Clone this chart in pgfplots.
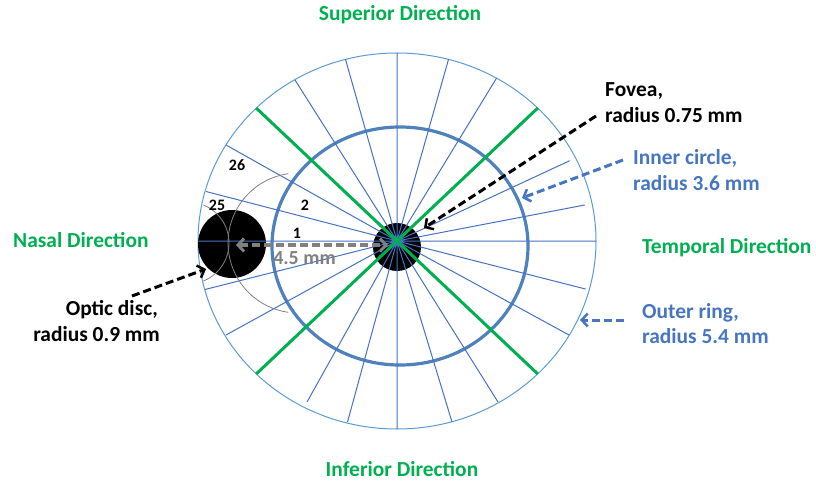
\documentclass[border=0pt]{standalone}
\usepackage{pgfplots}
\pgfplotsset{compat=1.18}
\usetikzlibrary{arrows.meta}
\usepackage{fontspec}
\setmainfont{Carlito}

\definecolor{rline}{RGB}{68,114,196}
\definecolor{outerc}{RGB}{91,155,213}
\definecolor{innerc}{RGB}{79,129,189}
\definecolor{dirgreen}{RGB}{0,176,80}
\definecolor{lblblue}{RGB}{70,118,192}
\definecolor{midgray}{RGB}{128,128,128}

\begin{document}
\begin{tikzpicture}
% everything in pixel units of the 816x483 picture, y pointing down
\begin{axis}[
width=816bp, height=483bp,
scale only axis,
xmin=0, xmax=816,
ymin=0, ymax=483,
y dir=reverse,
hide axis,
clip=false,
unbounded coords=jump
]
% outer ring and inner circle
\draw[outerc, line width=1bp] (axis cs:397,241) ellipse [x radius=199, y radius=188];
\draw[innerc, line width=3.2bp] (axis cs:400,246) ellipse [x radius=128, y radius=119];
% fovea and optic disc
\fill[black] (axis cs:397,247) ellipse [x radius=24, y radius=24];
\fill[black] (axis cs:232,244) ellipse [x radius=34, y radius=34];

% radial sector lines (end points on the outer ring)
\addplot[rline, line width=1bp] coordinates {
(397,241) (596,241) (nan,nan)
(397,241) (584.7,205) (nan,nan)
(397,241) (569.7,160.7) (nan,nan)
(397,241) (496.5,78.2) (nan,nan)
(397,241) (448.5,59.4) (nan,nan)
(397,241) (397,53) (nan,nan)
(397,241) (345.5,59.4) (nan,nan)
(397,241) (295,80) (nan,nan)
(397,241) (226,145) (nan,nan)
(397,241) (206,191.5) (nan,nan)
(397,241) (198,241) (nan,nan)
(397,241) (205,289.5) (nan,nan)
(397,241) (226,335) (nan,nan)
(397,241) (307,402) (nan,nan)
(397,241) (347.5,422) (nan,nan)
(397,241) (397,429) (nan,nan)
(397,241) (452,422) (nan,nan)
(397,241) (498,402) (nan,nan)
(397,241) (569,335) (nan,nan)
(397,241) (585.5,289) (nan,nan)
};
% diagonal quadrant lines
\addplot[dirgreen, line width=3bp] coordinates {
(397,241) (537.7,108.1) (nan,nan)
(397,241) (256.3,108.1) (nan,nan)
(397,241) (256.3,373.9) (nan,nan)
(397,241) (537.7,373.9) (nan,nan)
};

% thin grey arcs around the optic disc
\draw[midgray, line width=0.8bp] (axis cs:288.3,173.7) arc[start angle=98, end angle=262, radius=70bp];
\draw[midgray, line width=0.8bp] (axis cs:203.4,281) arc[start angle=-68, end angle=68, radius=41bp];

% 4.5 mm distance
\addplot[midgray, line width=4.5bp, dash pattern=on 8bp off 4bp,
  {Straight Barb[length=6bp,width=13bp,line width=3bp]}-{Straight Barb[length=6bp,width=13bp,line width=3bp]}]
  coordinates {(236,245) (388,245)};
\node[text=midgray, font=\fontsize{20}{22}\selectfont\bfseries] at (axis cs:304.5,258.5) {4.5 mm};

% sector numbers
\node[font=\fontsize{16}{18}\selectfont\bfseries] at (axis cs:297,233) {1};
\node[font=\fontsize{16}{18}\selectfont\bfseries] at (axis cs:305,205) {2};
\node[font=\fontsize{16}{18}\selectfont\bfseries] at (axis cs:217,205) {25};
\node[font=\fontsize{16}{18}\selectfont\bfseries] at (axis cs:237,165) {26};

% pointer arrows
\addplot[black, line width=3bp, dash pattern=on 8bp off 4bp,
  -{Straight Barb[length=6bp,width=13bp,line width=2.5bp]}]
  coordinates {(596,116) (424,228)};
\addplot[black, line width=3bp, dash pattern=on 8bp off 4bp,
  -{Straight Barb[length=6bp,width=13bp,line width=2.5bp]}]
  coordinates {(132,296) (206,269)};
\addplot[lblblue, line width=3bp, dash pattern=on 8bp off 4bp,
  -{Straight Barb[length=6bp,width=13bp,line width=2.5bp]}]
  coordinates {(623,160) (522,198)};
\addplot[lblblue, line width=3bp, dash pattern=on 8bp off 4bp,
  -{Straight Barb[length=6bp,width=13bp,line width=2.5bp]}]
  coordinates {(624,320) (580,320)};

% direction labels
\node[text=dirgreen, font=\fontsize{21.5}{24}\selectfont\bfseries, anchor=base] at (axis cs:400,21) {Superior Direction};
\node[text=dirgreen, font=\fontsize{21.5}{24}\selectfont\bfseries, anchor=base] at (axis cs:402,476) {Inferior Direction};
\node[text=dirgreen, font=\fontsize{21.5}{24}\selectfont\bfseries, anchor=base west, inner sep=0pt] at (axis cs:13,247) {Nasal Direction};
\node[text=dirgreen, font=\fontsize{21.5}{24}\selectfont\bfseries, anchor=base west, inner sep=0pt] at (axis cs:642,253) {Temporal Direction};

% callout labels
\node[font=\fontsize{21.5}{24}\selectfont\bfseries, anchor=base west, inner sep=0pt] at (axis cs:605,97) {Fovea,};
\node[font=\fontsize{21.5}{24}\selectfont\bfseries, anchor=base west, inner sep=0pt] at (axis cs:605,123) {radius 0.75 mm};
\node[text=lblblue, font=\fontsize{21.5}{24}\selectfont\bfseries, anchor=base west, inner sep=0pt] at (axis cs:633,164.5) {Inner circle,};
\node[text=lblblue, font=\fontsize{21.5}{24}\selectfont\bfseries, anchor=base west, inner sep=0pt] at (axis cs:633,190.5) {radius 3.6 mm};
\node[text=lblblue, font=\fontsize{21.5}{24}\selectfont\bfseries, anchor=base west, inner sep=0pt] at (axis cs:642,318) {Outer ring,};
\node[text=lblblue, font=\fontsize{21.5}{24}\selectfont\bfseries, anchor=base west, inner sep=0pt] at (axis cs:642,343) {radius 5.4 mm};
\node[font=\fontsize{21.5}{24}\selectfont\bfseries, anchor=base east, inner sep=0pt] at (axis cs:158,315) {Optic disc,};
\node[font=\fontsize{21.5}{24}\selectfont\bfseries, anchor=base east, inner sep=0pt] at (axis cs:160,341) {radius 0.9 mm};
\end{axis}
\pgfresetboundingbox
\path (current axis.south west) rectangle (current axis.north east);
\end{tikzpicture}
\end{document}
